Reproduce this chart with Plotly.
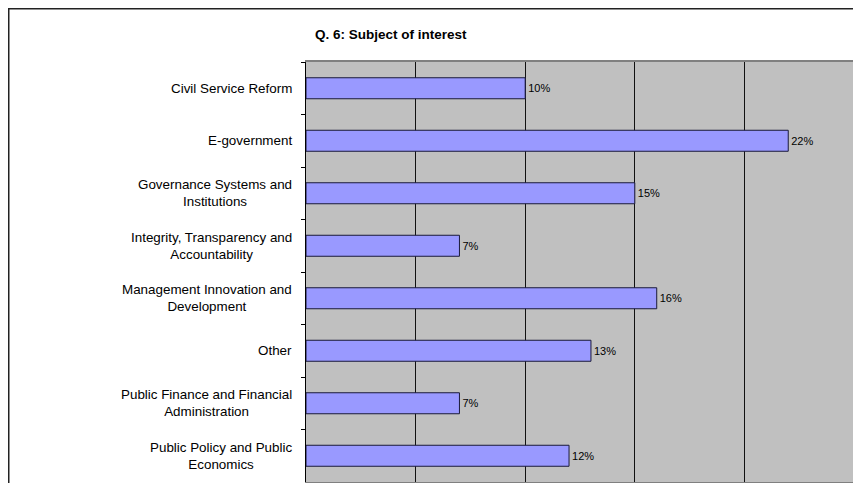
import plotly.graph_objects as go

categories = [
    "Civil Service Reform",
    "E-government",
    "Governance Systems and<br>Institutions",
    "Integrity, Transparency and<br>Accountability",
    "Management Innovation and<br>Development",
    "Other",
    "Public Finance and Financial<br>Administration",
    "Public Policy and Public<br>Economics",
]
values = [10, 22, 15, 7, 16, 13, 7, 12]
value_labels = ["10%", "22%", "15%", "7%", "16%", "13%", "7%", "12%"]
title_text = "Q. 6: Subject of interest"

FONT = "Arial, Liberation Sans, sans-serif"
OFF = 8  # page body margin
W, H = 861 - OFF, 491 - 2 * OFF
L, T = 306 - OFF, 62 - OFF
R = W - (854 - OFF)
B = H - (482 - OFF)
pw = W - L - R
ph = H - T - B

fig = go.Figure()
fig.add_trace(go.Bar(
    y=categories,
    x=values,
    orientation="h",
    width=0.4,
    marker=dict(color="#9999FF", line=dict(color="#1a1a3a", width=1)),
    text=value_labels,
    textposition="outside",
    textfont=dict(family=FONT, size=11, color="#000000"),
    cliponaxis=False,
    hoverinfo="skip",
))

annotations = []
for cat in categories:
    annotations.append(dict(
        x=(294 - 306) / pw, xref="paper", y=cat, yref="y",
        text=cat, showarrow=False, xanchor="right", yanchor="middle",
        align="center", font=dict(family=FONT, size=13.4, color="#000000"),
    ))

shapes = [
    # outer chart border (top and left visible)
    dict(type="rect", xref="paper", yref="paper",
         x0=(0.5 - L) / pw, x1=(W + 10 - L) / pw,
         y0=-(B + 10) / ph, y1=1 + (T - 0.5) / ph,
         line=dict(color="#222222", width=2), layer="below"),
    # right border of plot area
    dict(type="line", xref="paper", yref="paper", x0=1, x1=1, y0=0, y1=1,
         line=dict(color="#808080", width=1.5)),
]

fig.update_layout(
    width=W, height=H,
    margin=dict(l=L, r=R, t=T, b=B, autoexpand=False),
    paper_bgcolor="#FFFFFF",
    plot_bgcolor="#C0C0C0",
    showlegend=False,
    title=dict(text="<b>" + title_text + "</b>", x=(315 - OFF) / W, xanchor="left",
               xref="container", y=1 - (34 - OFF) / H, yanchor="middle", yref="container",
               font=dict(family=FONT, size=13.5, color="#000000")),
    xaxis=dict(range=[0, 25], dtick=5, tick0=0, showgrid=True, gridcolor="#111111",
               gridwidth=1, showticklabels=False, ticks="", zeroline=False,
               showline=True, linecolor="#808080", linewidth=1.5, mirror=True),
    yaxis=dict(autorange="reversed", showticklabels=False, ticks="outside",
               tickson="boundaries", ticklen=4, tickcolor="#000000", tickwidth=1,
               showgrid=False, showline=True, linecolor="#000000", linewidth=1,
               zeroline=False),
    annotations=annotations,
    shapes=shapes,
)

fig.write_html("out.html")
